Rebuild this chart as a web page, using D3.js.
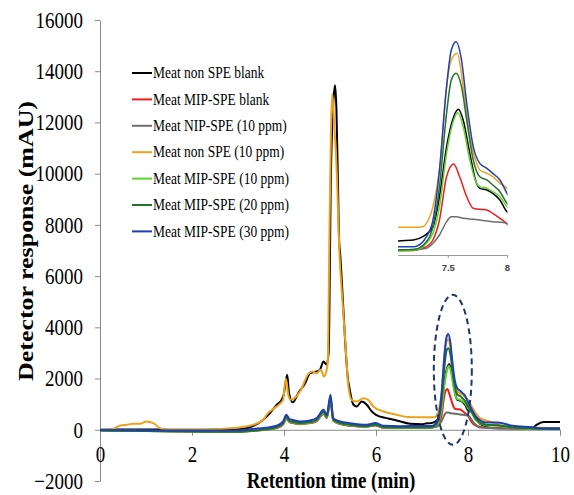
<!DOCTYPE html>
<html><head><meta charset="utf-8">
<script src="https://cdn.jsdelivr.net/npm/d3@7"></script>
<style>body{margin:0;background:#fff;overflow:hidden}</style>
</head><body>
<svg id="c" width="574" height="495"></svg>
<script>
// ---- data (retention time in min, detector response in mAU) ----
const seriesNames = [
  "Meat non SPE blank",
  "Meat MIP-SPE blank",
  "Meat NIP-SPE (10 ppm)",
  "Meat non SPE (10 ppm)",
  "Meat MIP-SPE (10 ppm)",
  "Meat MIP-SPE (20 ppm)",
  "Meat MIP-SPE (30 ppm)"
];
const seriesColors = ["#000000","#ee1c1c","#6e6e6e","#eea21b","#62d22e","#25712a","#1f3fb8"];

const nonSpeBlank = [[0,0],[0.5,10],[1,15],[1.5,5],[2,0],[2.5,10],[3,20],[3.26,100],[3.55,390],[3.7,660],[3.84,975],[3.95,1170],[3.99,1350],[4.07,2145],[4.11,1430],[4.19,1070],[4.31,1430],[4.46,1820],[4.57,2210],[4.71,2275],[4.78,2340],[4.86,2665],[4.92,2550],[4.97,3000],[5.02,9940],[5.08,13000],[5.11,13450],[5.14,12500],[5.17,9940],[5.2,7340],[5.22,6900],[5.27,5390],[5.33,3440],[5.38,2145],[5.43,1560],[5.51,975],[5.58,910],[5.69,1100],[5.8,975],[5.91,715],[6.0,585],[6.23,455],[6.45,365],[6.74,234],[7.0,215],[7.08,245],[7.21,263],[7.29,321],[7.375,497],[7.43,1023],[7.49,1901],[7.55,2427],[7.59,2556],[7.63,2368],[7.686,1784],[7.743,1257],[7.77,1170],[7.83,1140],[7.88,1082],[7.94,965],[8.0,760],[8.12,650],[8.2,350],[8.33,170],[8.5,70],[9.0,60],[9.4,70],[9.49,195],[9.64,300],[10,300]];
const mipBlank = [[0,-30],[1,-50],[2,-70],[3,-80],[3.3,-50],[3.6,0],[3.84,70],[3.98,200],[4.05,420],[4.12,300],[4.17,270],[4.35,220],[4.57,260],[4.71,340],[4.86,620],[4.93,460],[5.01,1100],[5.07,350],[5.22,220],[5.43,160],[5.8,120],[5.98,170],[6.16,80],[6.52,70],[7.0,70],[7.08,76],[7.21,80],[7.32,146],[7.375,263],[7.43,614],[7.49,1374],[7.55,1596],[7.6,1374],[7.66,1023],[7.715,819],[7.77,801],[7.83,790],[7.88,731],[7.94,643],[8.0,544],[8.08,300],[8.17,160],[8.4,80],[9,50],[10,30]];
const nip10 = [[0,-20],[1,-40],[2,-60],[3,-60],[3.3,-30],[3.6,20],[3.84,80],[3.98,220],[4.05,450],[4.12,320],[4.17,290],[4.35,240],[4.57,270],[4.71,350],[4.86,640],[4.93,480],[5.01,1150],[5.07,370],[5.22,230],[5.43,170],[5.8,130],[5.98,180],[6.16,90],[6.52,80],[7.0,85],[7.08,88],[7.21,95],[7.32,117],[7.375,205],[7.43,351],[7.49,585],[7.53,672],[7.57,672],[7.63,643],[7.715,626],[7.77,614],[7.88,585],[8.0,556],[8.12,285],[8.26,90],[9,50],[10,30]];
const nonSpe10 = [[0,0],[0.22,0],[0.43,155],[0.58,195],[0.72,235],[0.87,235],[1.01,325],[1.16,260],[1.3,65],[1.45,0],[2.17,0],[2.9,65],[3.33,195],[3.55,390],[3.62,585],[3.84,910],[3.98,1170],[4.04,2000],[4.1,1300],[4.15,1170],[4.35,1500],[4.54,2210],[4.62,2275],[4.71,2210],[4.8,2340],[4.87,2080],[4.91,2210],[4.95,2600],[4.99,8000],[5.05,13130],[5.09,12000],[5.15,9940],[5.2,7080],[5.26,5300],[5.33,3500],[5.4,1690],[5.47,1170],[5.58,1100],[5.72,1230],[5.83,1170],[5.94,910],[6.16,715],[6.45,585],[6.7,495],[7.0,490],[7.08,485],[7.21,485],[7.29,497],[7.32,556],[7.375,848],[7.43,1491],[7.49,2953],[7.53,3421],[7.58,3538],[7.63,2953],[7.686,2076],[7.743,1608],[7.77,1491],[7.83,1433],[7.88,1374],[7.94,1257],[8.0,1170],[8.12,780],[8.26,455],[8.55,285],[8.65,220],[8.8,130],[9.5,80],[10,60]];
const mip10 = [[0,-30],[1,-50],[2,-70],[3,-80],[3.3,-40],[3.6,10],[3.84,90],[3.98,240],[4.05,470],[4.12,330],[4.17,300],[4.35,240],[4.57,280],[4.71,370],[4.86,660],[4.93,500],[5.01,1200],[5.07,380],[5.22,240],[5.43,180],[5.8,130],[5.98,190],[6.16,90],[6.52,80],[7.0,80],[7.08,76],[7.21,80],[7.32,205],[7.375,380],[7.43,848],[7.49,1784],[7.55,2368],[7.585,2497],[7.63,2251],[7.686,1667],[7.743,1257],[7.77,1199],[7.83,1170],[7.88,1111],[7.94,1023],[8.0,848],[8.05,740],[8.17,380],[8.39,180],[8.65,160],[8.97,80],[9.4,40],[10,30]];
const mip20 = [[0,-30],[1,-50],[2,-70],[3,-80],[3.3,-40],[3.6,20],[3.84,100],[3.98,260],[4.05,500],[4.12,350],[4.17,320],[4.35,260],[4.57,300],[4.71,390],[4.86,700],[4.93,520],[5.01,1250],[5.07,400],[5.22,260],[5.43,200],[5.8,140],[5.98,200],[6.16,100],[6.52,90],[7.0,90],[7.08,88],[7.21,95],[7.32,234],[7.375,497],[7.43,1199],[7.49,2485],[7.53,3070],[7.57,3187],[7.616,2953],[7.66,2368],[7.715,1667],[7.77,1374],[7.83,1316],[7.88,1228],[7.94,1111],[8.0,906],[8.05,800],[8.17,420],[8.39,200],[8.65,180],[8.97,90],[9.4,50],[10,30]];
const mip30 = [[0,-10],[1,-20],[2,-30],[3,-30],[3.26,25],[3.6,80],[3.84,155],[3.98,325],[4.05,585],[4.12,420],[4.17,390],[4.35,325],[4.57,365],[4.71,455],[4.86,780],[4.93,585],[5.01,1365],[5.07,455],[5.22,325],[5.43,260],[5.8,195],[5.98,260],[6.16,155],[6.52,140],[7.0,150],[7.08,146],[7.21,146],[7.29,234],[7.32,321],[7.375,614],[7.43,1491],[7.49,2953],[7.53,3597],[7.57,3743],[7.616,3421],[7.66,2661],[7.715,1901],[7.77,1608],[7.83,1520],[7.88,1433],[7.94,1316],[8.0,1082],[8.03,975],[8.17,520],[8.39,285],[8.65,285],[8.97,155],[9.4,100],[9.6,60],[10,60]];

const seriesData = [nonSpeBlank, mipBlank, nip10, nonSpe10, mip10, mip20, mip30];

const xTicks = [0,2,4,6,8,10];
const yTicks = [-2000,0,2000,4000,6000,8000,10000,12000,14000,16000];
const insetTicks = [7.5, 8];
const insetDomain = [7.08, 8];
const insetYDomain = [0, 4000];

// ---- drawing ----
const svg = d3.select("#c");
svg.append("rect").attr("width",574).attr("height",495).attr("fill","#fff");

const x = d3.scaleLinear().domain([0,10]).range([100,560]);
const y = d3.scaleLinear().domain([-2000,16000]).range([481,20]);
const SERIF = "'Liberation Serif','Times New Roman',serif";
const SY = 1.2;

function vstretch(sel, sy){
  sel.each(function(){
    const t = d3.select(this);
    const yy = +t.attr("y") || 0;
    t.attr("y", yy/sy).attr("transform", `scale(1,${sy})`);
  });
}

// Y axis
const gy = svg.append("g").attr("transform","translate(100,0)")
  .call(d3.axisLeft(y).tickValues(yTicks).tickSize(5).tickSizeOuter(0).tickPadding(12).tickFormat(d3.format("d")));
gy.select(".domain").attr("stroke","#8a8a8a");
gy.selectAll(".tick line").attr("stroke","#8a8a8a");
gy.selectAll(".tick text").attr("font-family",SERIF).attr("font-size",19).attr("fill","#000");
vstretch(gy.selectAll(".tick text"), SY);

// X axis at y=0
const gx = svg.append("g").attr("transform",`translate(0,${y(0)})`)
  .call(d3.axisBottom(x).tickValues(xTicks).tickSize(6).tickSizeOuter(0).tickFormat(d3.format("d")));
gx.select(".domain").attr("stroke","#8a8a8a");
gx.selectAll(".tick line").attr("stroke","#8a8a8a");
gx.selectAll(".tick text").attr("font-family",SERIF).attr("font-size",19).attr("fill","#000").attr("y",16.3);
vstretch(gx.selectAll(".tick text"), SY);

// Lines
const line = d3.line().x(d=>x(d[0])).y(d=>y(d[1])).curve(d3.curveMonotoneX);
svg.append("defs").append("clipPath").attr("id","plotclip")
  .append("rect").attr("x",100).attr("y",15).attr("width",462).attr("height",470);
const gl = svg.append("g").attr("clip-path","url(#plotclip)");
seriesData.forEach((s,i)=>{
  gl.append("path").datum(s).attr("d",line).attr("fill","none")
    .attr("stroke",seriesColors[i]).attr("stroke-width",2).attr("stroke-linejoin","round");
});

// Dashed ellipse
svg.append("ellipse").attr("cx",x(7.67)).attr("cy",y(2340)).attr("rx",19).attr("ry",75)
  .attr("fill","none").attr("stroke","#1f3768").attr("stroke-width",2).attr("stroke-dasharray","6,4");

// Legend
const lg = svg.append("g");
seriesNames.forEach((n,i)=>{
  const cy = 73 + i*26.4;
  lg.append("line").attr("x1",132).attr("x2",152).attr("y1",cy).attr("y2",cy)
    .attr("stroke",seriesColors[i]).attr("stroke-width",2);
  const t = lg.append("text").attr("x",153).attr("y",cy+5.2).attr("font-family",SERIF)
    .attr("font-size",13.5).attr("fill","#000").text(n);
  vstretch(t, 1.22);
});

// Axis titles
const xt = svg.append("text").attr("x",331).attr("y",488).attr("text-anchor","middle")
  .attr("font-family",SERIF).attr("font-weight","bold").attr("font-size",19).attr("fill","#000")
  .text("Retention time (min)");
vstretch(xt, SY);
svg.append("g").attr("transform","translate(33,241) rotate(-90) scale(1.18,1)")
  .append("text").attr("x",0).attr("y",0).attr("text-anchor","middle")
  .attr("font-family",SERIF).attr("font-weight","bold").attr("font-size",22).attr("fill","#000")
  .text("Detector response (mAU)");

// Inset
const xi = d3.scaleLinear().domain(insetDomain).range([398,507]);
const yi = d3.scaleLinear().domain(insetYDomain).range([255,27]);
svg.select("defs").append("clipPath").attr("id","insetclip")
  .append("rect").attr("x",398).attr("y",25).attr("width",109.5).attr("height",232);
const lineI = d3.line().x(d=>xi(d[0])).y(d=>yi(d[1])).curve(d3.curveMonotoneX);
const gi = svg.append("g").attr("clip-path","url(#insetclip)");
seriesData.forEach((s,i)=>{
  gi.append("path").datum(s).attr("d",lineI).attr("fill","none")
    .attr("stroke",seriesColors[i]).attr("stroke-width",1.5);
});
const gix = svg.append("g").attr("transform","translate(0,255)")
  .call(d3.axisBottom(xi).tickValues(insetTicks).tickSize(3).tickSizeOuter(0).tickPadding(6).tickFormat(d3.format("")));
gix.select(".domain").attr("stroke","#9a9a9a");
gix.selectAll(".tick line").attr("stroke","#9a9a9a");
gix.selectAll(".tick text").attr("font-family","'Liberation Sans',Arial,sans-serif")
  .attr("font-size",9.5).attr("font-weight","bold").attr("fill","#444");
</script>
</body></html>
